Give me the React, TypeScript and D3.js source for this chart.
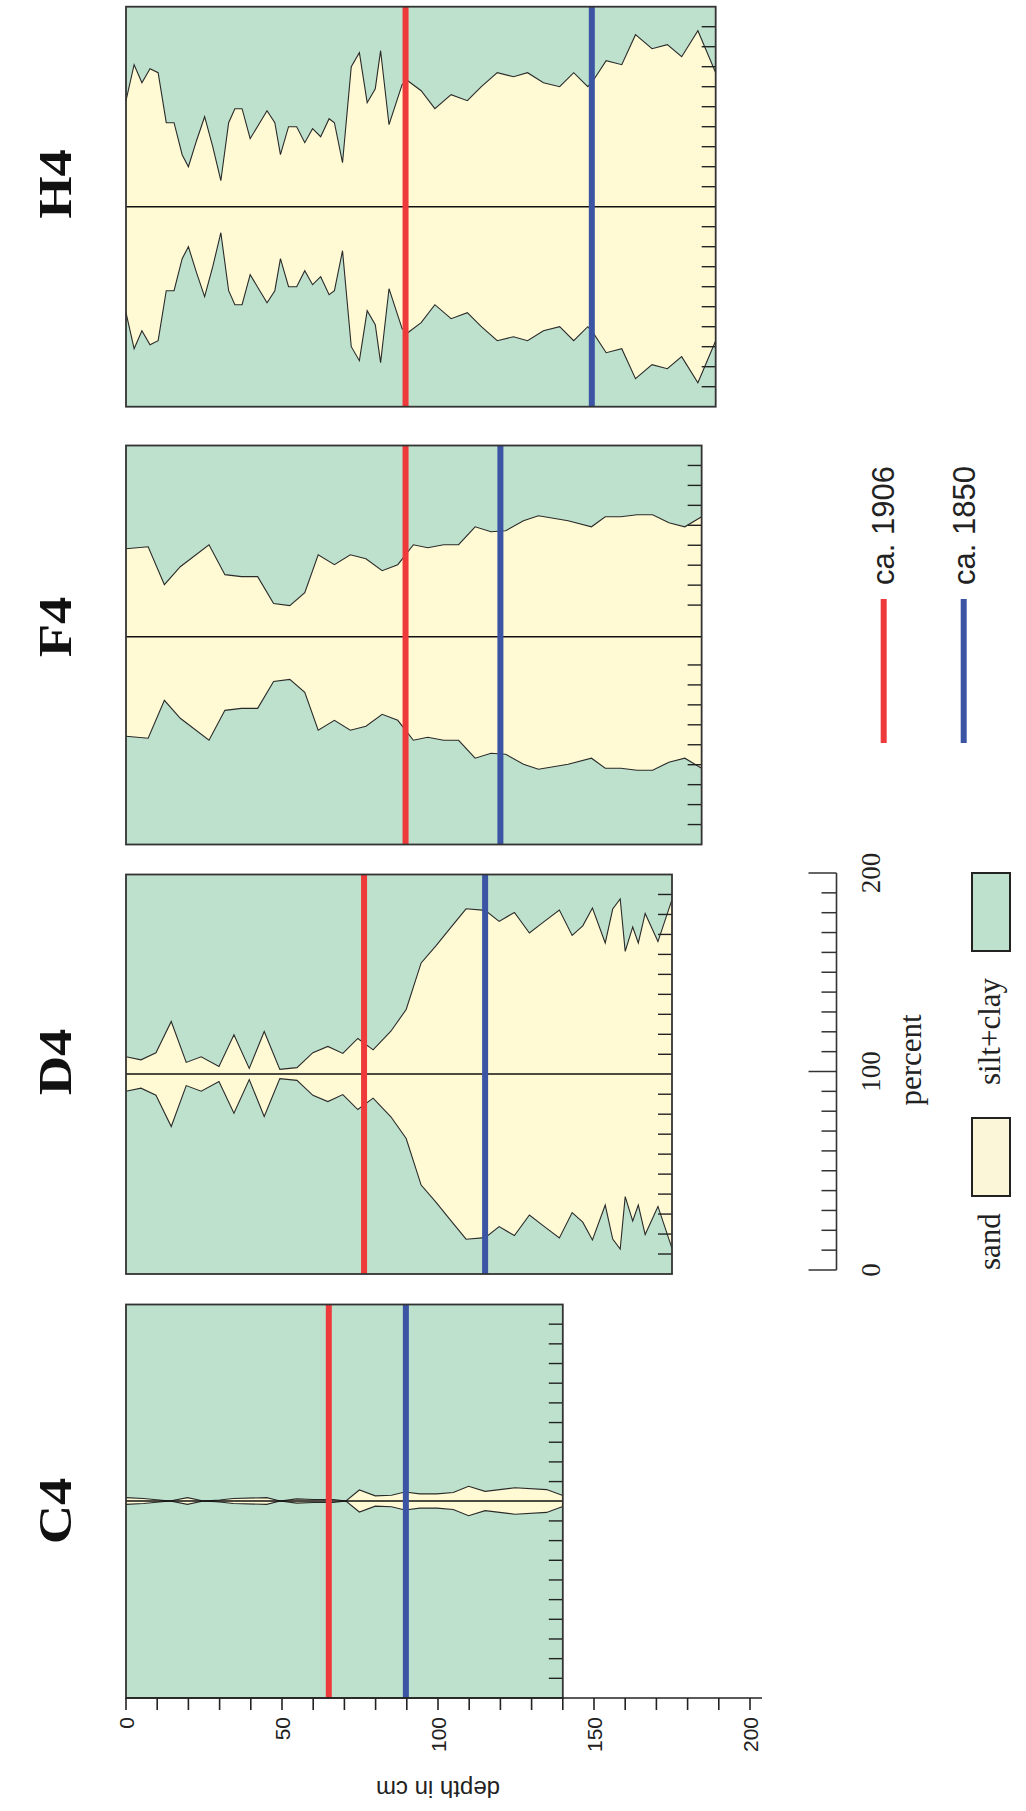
import React from "react";
import * as d3 from "d3";

// ---------- data ----------
const CORES = ["H4", "F4", "D4", "C4"];

const H4_depth = [0, 2.6, 5.1, 7.7, 10.3, 12.9, 15.4, 18, 20, 22.6, 25.2, 27.8, 30.4, 32.9, 34.9, 37.2, 39.8, 42.5, 45.2, 47.7, 49.5, 52.1, 54.7, 57.3, 59.8, 62.4, 65.1, 66.8, 69.4, 72.2, 74.8, 77.3, 79.9, 81.6, 84.3, 88.5, 90.3, 94.6, 99, 104.2, 109.4, 113.9, 119, 124.2, 128.7, 133.8, 139, 143.5, 148, 149.7, 153.9, 158.9, 163.3, 168.6, 173.5, 178.1, 183.3, 189];
const H4_sand = [53, 71, 62, 69, 67, 42, 42, 26, 20, 33, 45, 30, 13, 42, 49, 49, 34, 41, 48, 42, 26, 40, 40, 32, 39, 35, 44, 42, 22, 70, 77, 52, 59, 78, 41, 61, 63, 58, 49, 56, 53, 60, 67, 65, 67, 62, 60, 67, 60, 63, 73, 71, 86, 79, 81, 75, 88, 67];

const F4_depth = [0, 7.1, 12.3, 17.4, 26.6, 31.7, 37, 42.2, 47.3, 52.5, 57.3, 61.6, 66.8, 71.9, 76.9, 82.1, 87.1, 89.4, 92.1, 96.7, 101.8, 106.6, 111.9, 117, 121.7, 127.4, 132.2, 141.7, 149.2, 153.6, 158.6, 163.8, 168.8, 174, 179.1, 184.5];
const F4_sand = [47, 48, 29, 38, 49, 34, 33, 33, 19.5, 18.5, 25, 44, 39, 44, 42, 36, 39, 43.5, 49, 47.5, 49, 49, 58, 55.5, 56, 61, 63.5, 61, 58, 63, 63, 64, 64, 60, 58, 63];

const D4_depth = [0, 4.8, 9.6, 14.5, 19.3, 24.1, 29.8, 34.6, 39.5, 44.3, 49.3, 54.8, 59.9, 64.7, 69.5, 74.3, 79.2, 84.9, 89.8, 94.6, 99.4, 104.2, 109, 115.1, 119.6, 124.5, 129.3, 134.1, 138.9, 143, 146.4, 149.5, 153.6, 156, 158.4, 160, 162.4, 164.2, 166.4, 170.5, 175];
const D4_sand = [8.6, 7.1, 10.6, 26.3, 5.8, 8.6, 3.8, 19.6, 2.8, 21.3, 2.3, 3.2, 10.7, 13.8, 10.3, 17.8, 12.1, 21.4, 32.3, 55.6, 64.3, 73.5, 82.7, 81.9, 76.4, 80.9, 70.6, 76.4, 82.1, 69.4, 74.2, 83.1, 65.6, 82.6, 87.6, 61.4, 73.6, 65.6, 80.4, 66.3, 87.3];

const C4_depth = [0, 5.6, 14.1, 19.7, 24.8, 30, 34.4, 45.1, 49.4, 54.7, 60, 66.5, 70.5, 74.8, 79.9, 85.1, 89.4, 94.2, 99.6, 104.9, 109.8, 115.1, 124.7, 134.8, 140];
const C4_sand = [1.7, 1.3, 0, 1.7, 0, 0.5, 1.3, 1.7, 0, 1.1, 0.8, 0.8, 0, 5.6, 2.6, 2.9, 4.6, 3.6, 3.6, 4.3, 7.5, 4.9, 6.7, 5.8, 2.8];

const MAX_DEPTH = [189, 184.5, 175, 140];
const EVENT_1906 = [89.6, 89.6, 76.3, 65];
const EVENT_1850 = [149.3, 120, 115.1, 89.7];

const DEPTH_TICKS = d3.range(0, 201, 10);
const DEPTH_LABELS = [0, 50, 100, 150, 200];
const PCT_TICKS = d3.range(0, 201, 10);
const PCT_LABELS = [0, 100, 200];

const LEGEND_EVENTS = ["ca. 1906", "ca. 1850"];
const LEGEND_FILLS = ["sand", "silt+clay"];

// ---------- style / layout ----------
const GREEN = "#bee1cd";
const SAND = "#fffad4";
const RED = "#ee3a3a";
const BLUE = "#3b54a4";
const SERIF = "'Liberation Serif', 'Times New Roman', serif";
const SANS = "'Liberation Sans', Arial, Helvetica, sans-serif";

const LAYOUT = [
  { top: 6.7, bottom: 406.7, line: 206.7, shape: 206.7, labelY: 184 },
  { top: 445.5, bottom: 844.5, line: 636.7, shape: 642.5, labelY: 627 },
  { top: 874.5, bottom: 1274, line: 1074, shape: 1074, labelY: 1062 },
  { top: 1304.5, bottom: 1698, line: 1501, shape: 1501, labelY: 1511 },
];
const DATA = [
  [H4_depth, H4_sand],
  [F4_depth, F4_sand],
  [D4_depth, D4_sand],
  [C4_depth, C4_sand],
];

const x = d3.scaleLinear().domain([0, 200]).range([126, 750]);

function Panel({ i }: { i: number }) {
  const L = LAYOUT[i];
  const [dep, sand] = DATA[i];
  const y = d3.scaleLinear().domain([0, 200]).range([L.bottom, L.top]);
  const shift = L.shape - y(100);
  const pts = dep.map((d, k) => ({ d, p: sand[k] }));
  const area = d3
    .area<{ d: number; p: number }>()
    .x((v) => x(v.d))
    .y0((v) => y(100 - v.p) + shift)
    .y1((v) => y(100 + v.p) + shift);
  const upper = d3
    .line<{ d: number; p: number }>()
    .x((v) => x(v.d))
    .y((v) => y(100 + v.p) + shift);
  const lower = d3
    .line<{ d: number; p: number }>()
    .x((v) => x(v.d))
    .y((v) => y(100 - v.p) + shift);
  const x0 = x(0);
  const x1 = x(MAX_DEPTH[i]);
  const ticks = PCT_TICKS.filter((t) => t > 0 && t < 200 && Math.abs(y(t) - L.line) > 12);
  return (
    <g>
      <rect x={x0} y={L.top} width={x1 - x0} height={L.bottom - L.top} fill={GREEN} />
      <path d={area(pts) || ""} fill={SAND} />
      <path d={upper(pts) || ""} fill="none" stroke="#2a2a2a" strokeWidth={1.1} />
      <path d={lower(pts) || ""} fill="none" stroke="#2a2a2a" strokeWidth={1.1} />
      <line x1={x0} x2={x1} y1={L.line} y2={L.line} stroke="#111" strokeWidth={1.6} />
      {ticks.map((t) => (
        <line key={t} x1={x1 - 14} x2={x1} y1={y(t)} y2={y(t)} stroke="#222" strokeWidth={1.4} />
      ))}
      <line x1={x(EVENT_1906[i])} x2={x(EVENT_1906[i])} y1={L.top} y2={L.bottom} stroke={RED} strokeWidth={6} />
      <line x1={x(EVENT_1850[i])} x2={x(EVENT_1850[i])} y1={L.top} y2={L.bottom} stroke={BLUE} strokeWidth={6} />
      <rect x={x0} y={L.top} width={x1 - x0} height={L.bottom - L.top} fill="none" stroke="#333" strokeWidth={1.8} />
      <text
        transform={`translate(71,${L.labelY}) rotate(-90) scale(1.05,0.9)`}
        textAnchor="middle"
        fontFamily={SERIF}
        fontWeight="bold"
        fontSize={52}
        fill="#111"
      >
        {CORES[i]}
      </text>
    </g>
  );
}

export default function App() {
  const axisY = 1698;
  const yPct = d3.scaleLinear().domain([0, 200]).range([1270, 873]);
  const axisX = 836.5;
  return (
    <svg
      width={1026}
      height={1811}
      style={{ position: "absolute", left: 0, top: 0, background: "#fff" }}
    >
      <rect width={1026} height={1811} fill="#fff" />
      {CORES.map((c, i) => (
        <Panel key={c} i={i} />
      ))}

      {/* depth axis */}
      <line x1={x(0)} x2={762} y1={axisY} y2={axisY} stroke="#222" strokeWidth={1.6} />
      {DEPTH_TICKS.map((t) => (
        <line key={t} x1={x(t)} x2={x(t)} y1={axisY} y2={axisY + 12} stroke="#222" strokeWidth={1.6} />
      ))}
      {DEPTH_LABELS.map((t) => (
        <text
          key={t}
          transform={`translate(${x(t) + 7.5},${axisY + 19}) rotate(-90)`}
          textAnchor="end"
          fontFamily={SANS}
          fontSize={21}
          fill="#222"
        >
          {t}
        </text>
      ))}
      <text
        transform={`translate(${x(100)},1781) rotate(180)`}
        textAnchor="middle"
        fontFamily={SANS}
        fontSize={24}
        fill="#222"
      >
        depth in cm
      </text>

      {/* percent axis */}
      <line x1={axisX} x2={axisX} y1={yPct(0)} y2={yPct(200)} stroke="#333" strokeWidth={1.6} />
      {PCT_TICKS.map((t) => (
        <line
          key={t}
          x1={PCT_LABELS.includes(t) ? axisX - 28 : axisX - 15}
          x2={axisX}
          y1={yPct(t)}
          y2={yPct(t)}
          stroke="#333"
          strokeWidth={1.5}
        />
      ))}
      {PCT_LABELS.map((t) => (
        <text
          key={t}
          transform={`translate(880,${yPct(t)}) rotate(-90)`}
          textAnchor="middle"
          fontFamily={SERIF}
          fontSize={27}
          fill="#222"
        >
          {t}
        </text>
      ))}
      <text
        transform={`translate(921,1060) rotate(-90)`}
        textAnchor="middle"
        fontFamily={SERIF}
        fontSize={31}
        fill="#222"
      >
        percent
      </text>

      {/* legend: fills */}
      <rect x={972} y={1118} width={38} height={78} fill="#fbf6d8" stroke="#222" strokeWidth={2} />
      <rect x={972} y={873} width={38} height={78} fill={GREEN} stroke="#222" strokeWidth={2} />
      <text
        transform={`translate(1000,1270) rotate(-90)`}
        textAnchor="start"
        fontFamily={SERIF}
        fontSize={31}
        fill="#222"
      >
        {LEGEND_FILLS[0]}
      </text>
      <text
        transform={`translate(1000,1085) rotate(-90)`}
        textAnchor="start"
        fontFamily={SERIF}
        fontSize={31}
        fill="#222"
      >
        {LEGEND_FILLS[1]}
      </text>

      {/* legend: events */}
      <line x1={883.7} x2={883.7} y1={599} y2={743} stroke={RED} strokeWidth={6} />
      <line x1={963.7} x2={963.7} y1={599} y2={743} stroke={BLUE} strokeWidth={6} />
      <text
        transform={`translate(894,585) rotate(-90)`}
        textAnchor="start"
        fontFamily={SANS}
        fontSize={31}
        fill="#222"
      >
        {LEGEND_EVENTS[0]}
      </text>
      <text
        transform={`translate(975,585) rotate(-90)`}
        textAnchor="start"
        fontFamily={SANS}
        fontSize={31}
        fill="#222"
      >
        {LEGEND_EVENTS[1]}
      </text>
    </svg>
  );
}
